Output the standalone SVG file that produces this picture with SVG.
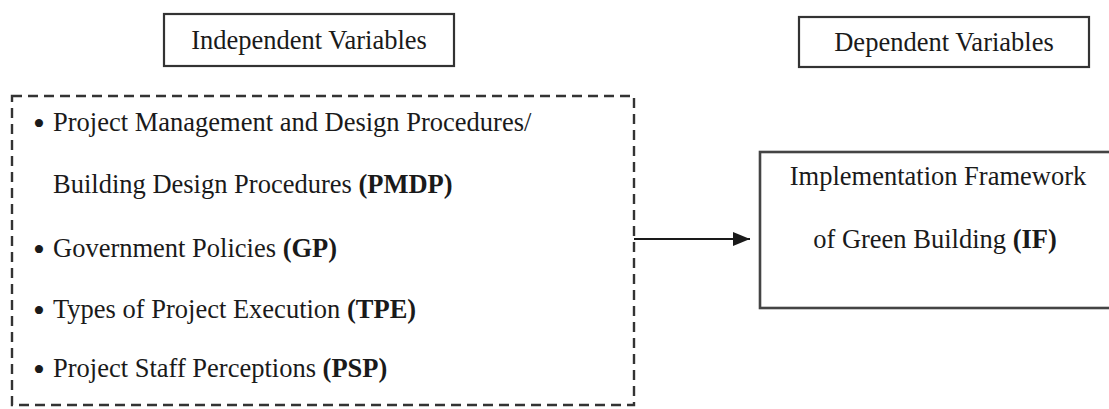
<svg xmlns="http://www.w3.org/2000/svg" width="1109" height="409" viewBox="0 0 1109 409">
<style>
.box{fill:#fff;stroke:#333;stroke-width:2.2}
.dash{fill:none;stroke:#333;stroke-width:2.4;stroke-dasharray:10 6}
.t{font-family:"Liberation Serif","Times New Roman",serif;font-size:26.5px;fill:#1a1a1a}
.bl{font-family:"Liberation Serif","Times New Roman",serif;font-size:34px;fill:#1a1a1a;text-anchor:middle}
.b{font-weight:bold}
.conn{stroke:#1a1a1a;stroke-width:2;fill:none}
</style>
<defs>
<marker id="ah" markerWidth="18" markerHeight="14" refX="17" refY="7" orient="auto" markerUnits="userSpaceOnUse">
<path d="M0,0 L17,7 L0,14 Z" fill="#1a1a1a"/>
</marker>
</defs>
<rect width="1109" height="409" fill="#fff"/>
<g id="independent-header">
<rect class="box" x="164" y="14" width="290" height="52"/>
<text class="t" x="309" y="49" text-anchor="middle">Independent Variables</text>
</g>
<g id="dependent-header">
<rect class="box" x="799" y="17" width="290" height="50"/>
<text class="t" x="944" y="51" text-anchor="middle">Dependent Variables</text>
</g>
<g id="independent-list">
<rect class="dash" x="12" y="96" width="622" height="309"/>
<text class="bl" x="39" y="135">•</text>
<text class="t" x="53" y="131">Project Management and Design Procedures/</text>
<text class="t" x="53" y="193">Building Design Procedures <tspan class="b">(PMDP)</tspan></text>
<text class="bl" x="39" y="261">•</text>
<text class="t" x="53" y="257">Government Policies <tspan class="b">(GP)</tspan></text>
<text class="bl" x="39" y="322">•</text>
<text class="t" x="53" y="318">Types of Project Execution <tspan class="b">(TPE)</tspan></text>
<text class="bl" x="39" y="381">•</text>
<text class="t" x="53" y="377">Project Staff Perceptions <tspan class="b">(PSP)</tspan></text>
</g>
<g id="implementation-framework">
<rect class="box" x="760" y="152" width="360" height="156" style="stroke:#444;stroke-width:2.6"/>
<text class="t" x="938" y="185" text-anchor="middle">Implementation Framework</text>
<text class="t" x="935" y="248" text-anchor="middle">of Green Building <tspan class="b">(IF)</tspan></text>
</g>
<g id="connectors">
<line class="conn" x1="634" y1="239" x2="750" y2="239" marker-end="url(#ah)"/>
</g>
</svg>
